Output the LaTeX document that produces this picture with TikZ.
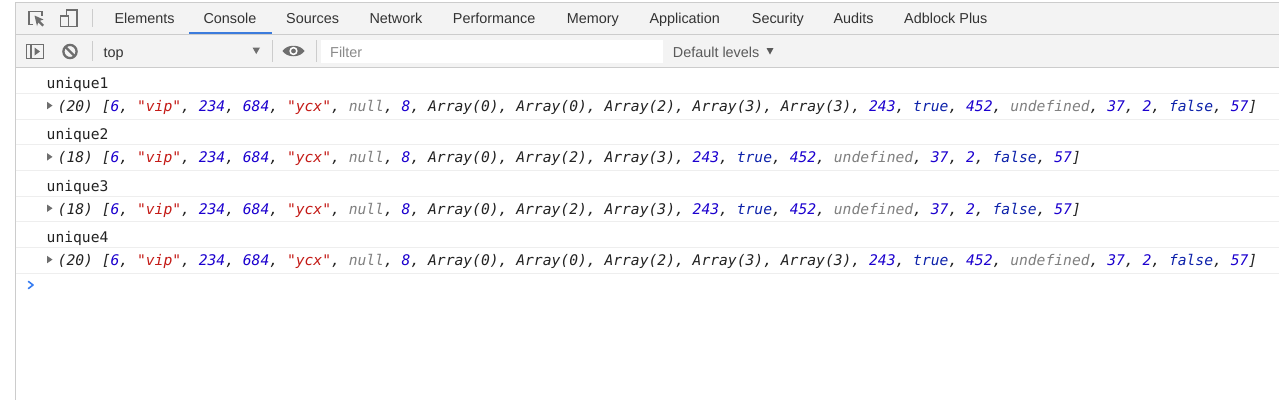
\documentclass[tikz,border=0pt]{standalone}
\usepackage{fontspec}
\setmainfont{Liberation Sans}
\newfontfamily\mono[ItalicFont={DejaVu Sans Mono Oblique}]{DejaVu Sans Mono}
\definecolor{bar}{HTML}{F3F3F3}
\definecolor{border}{HTML}{CCCCCC}
\definecolor{rowline}{HTML}{EEEEEE}
\definecolor{tabtext}{HTML}{333333}
\definecolor{icon}{HTML}{6E6E6E}
\definecolor{cstr}{HTML}{C41A16}
\definecolor{cnum}{HTML}{1C00CF}
\definecolor{cbool}{HTML}{0D22AA}
\definecolor{cnull}{HTML}{808080}
\definecolor{ctext}{HTML}{222222}
\definecolor{accent}{HTML}{3B7BDC}
\definecolor{prompt}{HTML}{367CF1}
\definecolor{placeholder}{HTML}{8A8A8A}
\definecolor{lvltext}{HTML}{5A5A5A}
\newcommand\Str[1]{\textcolor{cstr}{"#1"}}
\newcommand\Num[1]{\textcolor{cnum}{#1}}
\newcommand\Bool[1]{\textcolor{cbool}{#1}}
\newcommand\Nul[1]{\textcolor{cnull}{#1}}
\newcommand\LongRow[1]{(#1) [\Num{6}, \Str{vip}, \Num{234}, \Num{684}, \Str{ycx}, \Nul{null}, \Num{8}, Array(0), Array(0), Array(2), Array(3), Array(3), \Num{243}, \Bool{true}, \Num{452}, \Nul{undefined}, \Num{37}, \Num{2}, \Bool{false}, \Num{57}]}
\newcommand\ShortRow[1]{(#1) [\Num{6}, \Str{vip}, \Num{234}, \Num{684}, \Str{ycx}, \Nul{null}, \Num{8}, Array(0), Array(2), Array(3), \Num{243}, \Bool{true}, \Num{452}, \Nul{undefined}, \Num{37}, \Num{2}, \Bool{false}, \Num{57}]}
\frenchspacing
\begin{document}
\begin{tikzpicture}[x=1pt,y=-1pt,
  tab/.style={anchor=base west, inner sep=0pt, font=\fontsize{14.4}{16}\selectfont, text=tabtext},
  tool/.style={anchor=base west, inner sep=0pt, font=\fontsize{14.4}{16}\selectfont},
  lbl/.style={anchor=base west, inner sep=0pt, font=\mono\fontsize{14.65}{16}\selectfont, text=ctext},
  arr/.style={anchor=base west, inner sep=0pt, font=\mono\itshape\fontsize{14.65}{16}\selectfont, text=ctext},
  sep/.style={draw=border, line width=1pt},
  ico/.style={draw=icon, line width=1.4pt},
  tri/.style={fill=icon, draw=none},
  rowsep/.style={draw=rowline, line width=1pt}]
\useasboundingbox (0,0) rectangle (1279,400);
\fill[white] (0,0) rectangle (1279,400);
% toolbars
\fill[bar] (15,3) rectangle (1279,67);
\draw[sep] (15,2.5) -- (1279,2.5);
\draw[sep] (15,34) -- (1279,34);
\draw[sep] (15,67.5) -- (1279,67.5);
\draw[sep] (15,2.5) -- (15,400);
% tab bar icons
\draw[icon, line width=1.3pt] (33,24.5) -- (29,24.5) -- (29,11.5) -- (42,11.5) -- (42,16);
\fill[icon] (34.5,15.5) -- (43.5,19.5) -- (40,20.8) -- (44,24.8) -- (42.3,26.5) -- (38.3,22.5) -- (37,26) -- cycle;
\draw[icon, line width=1.3pt] (66.5,10) rectangle (77,26.5);
\filldraw[fill=bar, draw=icon, line width=1.3pt] (60.5,16) rectangle (68.5,26.5);
\draw[sep] (92,9) -- (92,27);
% tabs
\node[tab] (t1) at (114.3,23.3) {Elements};
\node[tab] (t2) at (203.3,23.3) {Console};
\node[tab] (t3) at (286,23.3) {Sources};
\node[tab] (t4) at (369.3,23.3) {Network};
\node[tab] (t5) at (452.7,23.3) {Performance};
\node[tab] (t6) at (566.7,23.3) {Memory};
\node[tab] (t7) at (649.3,23.3) {Application};
\node[tab] (t8) at (751.7,23.3) {Security};
\node[tab] (t9) at (833.3,23.3) {Audits};
\node[tab] (t10) at (904,23.3) {Adblock Plus};
\fill[accent] (189,32) rectangle (272,34);
% second toolbar
\draw[icon, line width=1.3pt] (26.5,44.5) rectangle (43.5,58.5);
\draw[icon, line width=1.3pt] (31,44.5) -- (31,58.5);
\fill[icon] (34.5,47.5) -- (34.5,55.5) -- (40,51.5) -- cycle;
\draw[icon, line width=2.3pt] (70,51.5) circle (6.6);
\draw[icon, line width=2.3pt] (65.3,46.8) -- (74.7,56.2);
\draw[sep] (92,41) -- (92,61);
\node[tool, text=tabtext] (top) at (103.3,57) {top};
\fill[icon] (252.5,47.5) -- (260,47.5) -- (256.25,54) -- cycle;
\draw[sep] (272,40) -- (272,62);
\fill[icon] (282.5,51) .. controls (287,44) and (300,44) .. (304.5,51) .. controls (300,58) and (287,58) .. cycle;
\fill[white] (293.5,51) circle (4.2);
\fill[icon] (293.5,51) circle (2.4);
\draw[sep] (316.5,40) -- (316.5,62);
\fill[white] (321,40) rectangle (663,63);
\node[tool, text=placeholder] (filter) at (330,57) {Filter};
\node[tool, text=lvltext] (levels) at (672.7,57) {Default levels};
\fill[lvltext] (766.5,48) -- (773.5,48) -- (770,54.5) -- cycle;
% console row separators
\foreach \yy in {93.5,119,144.5,170,196,221.5,247,273}
  \draw[rowsep] (15.5,\yy) -- (1279,\yy);
% console rows
\node[lbl] (u1) at (46.5,88.5) {unique1};
\fill[icon] (47,101.8) -- (47,109.3) -- (52.5,105.55) -- cycle;
\node[arr] (r1) at (57.5,111.3) {\LongRow{20}};
\node[lbl] (u2) at (46.5,139.8) {unique2};
\fill[icon] (47,153.1) -- (47,160.6) -- (52.5,156.85) -- cycle;
\node[arr] (r2) at (57.5,162.6) {\ShortRow{18}};
\node[lbl] (u3) at (46.5,191.2) {unique3};
\fill[icon] (47,204.5) -- (47,212) -- (52.5,208.25) -- cycle;
\node[arr] (r3) at (57.5,214) {\ShortRow{18}};
\node[lbl] (u4) at (46.5,242.5) {unique4};
\fill[icon] (47,255.8) -- (47,263.3) -- (52.5,259.55) -- cycle;
\node[arr] (r4) at (57.5,265.3) {\LongRow{20}};
% prompt
\draw[prompt, line width=1.6pt, line cap=round, line join=round] (28.5,281.5) -- (33,285) -- (28.5,288.5);
\end{tikzpicture}
\end{document}
